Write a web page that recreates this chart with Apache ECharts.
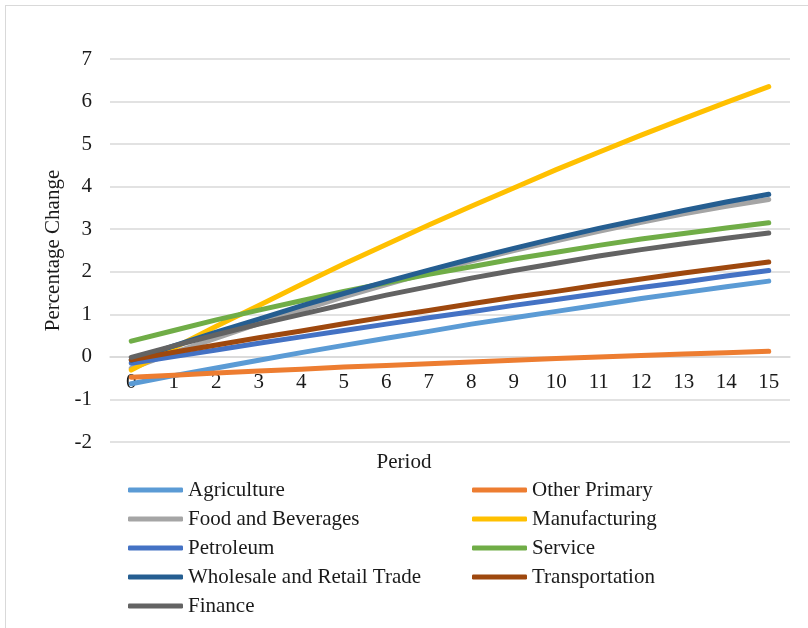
<!DOCTYPE html>
<html>
<head>
<meta charset="utf-8">
<script src="https://cdn.jsdelivr.net/npm/echarts@6/dist/echarts.min.js"></script>
<style>
  html, body { margin: 0; padding: 0; background: #fff; }
  #frame { position: absolute; left: 5px; top: 5px; width: 1000px; height: 1000px;
           border-left: 1px solid #d9d9d9; border-top: 1px solid #d9d9d9; }
  #chart { position: absolute; left: 0; top: 0; width: 808px; height: 628px; }
</style>
</head>
<body>
<div id="frame"></div>
<div id="chart"></div>
<script>
// Periods along the horizontal axis
const periods = ['0','1','2','3','4','5','6','7','8','9','10','11','12','13','14','15'];

// Percentage change by sector for each period
const agriculture    = [-0.63,-0.44,-0.26,-0.08,0.10,0.27,0.44,0.60,0.77,0.92,1.07,1.22,1.37,1.51,1.65,1.78];
const otherPrimary   = [-0.48,-0.43,-0.38,-0.33,-0.29,-0.24,-0.20,-0.16,-0.12,-0.08,-0.04,0.00,0.03,0.07,0.10,0.13];
const foodBeverages  = [-0.27,0.10,0.44,0.78,1.10,1.41,1.70,1.98,2.25,2.50,2.73,2.95,3.16,3.36,3.54,3.70];
const manufacturing  = [-0.31,0.21,0.72,1.21,1.70,2.18,2.64,3.10,3.54,3.97,4.40,4.81,5.21,5.60,5.98,6.35];
const petroleum      = [-0.15,0.01,0.16,0.32,0.47,0.62,0.77,0.92,1.06,1.21,1.35,1.49,1.63,1.76,1.90,2.03];
const service        = [0.37,0.62,0.87,1.10,1.32,1.54,1.74,1.94,2.12,2.30,2.46,2.62,2.77,2.90,3.03,3.15];
const wholesaleTrade = [-0.08,0.26,0.58,0.89,1.20,1.49,1.77,2.04,2.30,2.55,2.79,3.02,3.23,3.44,3.64,3.82];
const transportation = [-0.07,0.11,0.28,0.45,0.61,0.78,0.94,1.09,1.25,1.40,1.54,1.69,1.83,1.97,2.10,2.23];
const finance        = [-0.01,0.26,0.52,0.77,1.00,1.23,1.45,1.65,1.85,2.03,2.20,2.37,2.52,2.66,2.79,2.91];

// Value axis ticks
const yMin = -2, yMax = 7, yStep = 1;

const sectors = [
  { name: 'Agriculture', data: agriculture, color: '#5B9BD5' },
  { name: 'Other Primary', data: otherPrimary, color: '#ED7D31' },
  { name: 'Food and Beverages', data: foodBeverages, color: '#A5A5A5' },
  { name: 'Manufacturing', data: manufacturing, color: '#FFC000' },
  { name: 'Petroleum', data: petroleum, color: '#4472C4' },
  { name: 'Service', data: service, color: '#70AD47' },
  { name: 'Wholesale and Retail Trade', data: wholesaleTrade, color: '#255E91' },
  { name: 'Transportation', data: transportation, color: '#9E480E' },
  { name: 'Finance', data: finance, color: '#636363' }
];

const FONT = '"Liberation Serif", "Times New Roman", serif';
const TXT = '#1a1a1a';

const legendBase = {
  orient: 'vertical',
  top: 473,
  itemWidth: 55,
  itemHeight: 5,
  itemGap: 5,
  icon: 'roundRect',
  textStyle: { fontFamily: FONT, fontSize: 21, color: TXT, lineHeight: 24 },
  selectedMode: false
};

const chart = echarts.init(document.getElementById('chart'), null, { renderer: 'canvas' });
chart.setOption({
  animation: false,
  backgroundColor: 'transparent',
  title: {
    text: 'Period',
    left: 'center',
    top: 447,
    textStyle: { fontFamily: FONT, fontSize: 21, fontWeight: 'normal', color: TXT }
  },
  legend: [
    Object.assign({}, legendBase, { left: 123, data: ['Agriculture', 'Food and Beverages', 'Petroleum', 'Wholesale and Retail Trade', 'Finance'] }),
    Object.assign({}, legendBase, { left: 467, data: ['Other Primary', 'Manufacturing', 'Service', 'Transportation'] })
  ],
  grid: { left: 110, right: 18, top: 59, bottom: 186, containLabel: false },
  xAxis: {
    type: 'category',
    data: periods,
    boundaryGap: true,
    offset: 0,
    z: 0,
    axisLine: { onZero: false, lineStyle: { color: '#d9d9d9', width: 1.5 } },
    axisTick: { show: false },
    axisLabel: { fontFamily: FONT, fontSize: 21, color: TXT, margin: 15, interval: 0 },
    splitLine: { show: false }
  },
  yAxis: {
    type: 'value',
    min: yMin,
    max: yMax,
    interval: yStep,
    name: 'Percentage Change',
    nameLocation: 'middle',
    nameGap: 38,
    nameTextStyle: { fontFamily: FONT, fontSize: 21, color: TXT },
    axisLine: { show: false },
    axisTick: { show: false },
    axisLabel: { fontFamily: FONT, fontSize: 21, color: TXT, margin: 18 },
    splitLine: { lineStyle: { color: '#d9d9d9', width: 1.5 } }
  },
  series: sectors.map(s => ({
    name: s.name,
    type: 'line',
    data: s.data,
    color: s.color,
    symbol: 'none',
    z: 3,
    lineStyle: { width: 5, color: s.color, cap: 'round', join: 'round' },
    itemStyle: { color: s.color }
  }))
});

// Place the category axis (line and labels) where the value axis crosses zero
const zeroY = chart.convertToPixel({ yAxisIndex: 0 }, 0);
const floorY = chart.convertToPixel({ yAxisIndex: 0 }, yMin);
chart.setOption({ xAxis: { offset: zeroY - floorY } });
</script>
</body>
</html>
